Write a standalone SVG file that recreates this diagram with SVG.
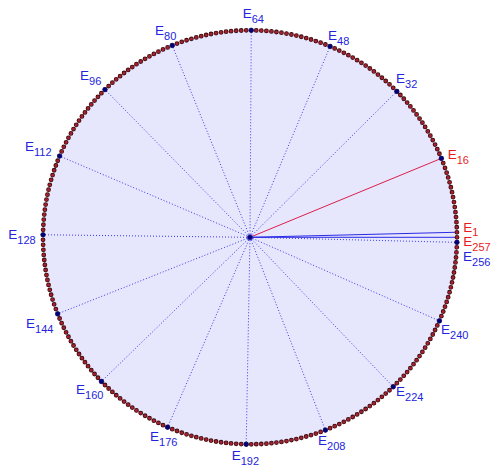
<svg xmlns="http://www.w3.org/2000/svg" width="500" height="476" viewBox="0 0 500 476">
<style>
.lb{font-family:"Liberation Sans",Arial,sans-serif;font-size:13.5px;fill:#2323e0}
.rd{fill:#e81c1c}
.sub{font-size:11px}
.dot{fill:#00007a;stroke:#1a1a66;stroke-width:0.6}
.dl{stroke:#3a3af0;stroke-width:1;stroke-dasharray:1 2;fill:none}
.sl{stroke:#2a2ae6;stroke-width:1;fill:none}
.red{stroke:#dc1f4a;stroke-width:1;fill:none}
</style>
<rect width="500" height="476" fill="#ffffff"/>
<circle id="disk" cx="250" cy="237.3" r="207" fill="#e6e6fc"/>
<g id="connectors">
<line class="red" x1="250" y1="237.3" x2="441.36" y2="158.37"/>
<line class="dl" x1="250" y1="237.3" x2="396.82" y2="91.38"/>
<line class="dl" x1="250" y1="237.3" x2="330.09" y2="46.42"/>
<line class="dl" x1="250" y1="237.3" x2="251.26" y2="30.3"/>
<line class="dl" x1="250" y1="237.3" x2="172.25" y2="45.45"/>
<line class="dl" x1="250" y1="237.3" x2="104.98" y2="89.59"/>
<line class="dl" x1="250" y1="237.3" x2="59.61" y2="156.04"/>
<line class="dl" x1="250" y1="237.3" x2="43.01" y2="234.77"/>
<line class="dl" x1="250" y1="237.3" x2="57.68" y2="313.88"/>
<line class="dl" x1="250" y1="237.3" x2="101.41" y2="381.42"/>
<line class="dl" x1="250" y1="237.3" x2="167.58" y2="427.19"/>
<line class="dl" x1="250" y1="237.3" x2="246.2" y2="444.27"/>
<line class="dl" x1="250" y1="237.3" x2="325.4" y2="430.08"/>
<line class="dl" x1="250" y1="237.3" x2="393.21" y2="386.77"/>
<line class="dl" x1="250" y1="237.3" x2="439.38" y2="320.88"/>
<line class="dl" x1="250" y1="237.3" x2="456.94" y2="242.36"/>
<line class="sl" x1="250" y1="237.3" x2="456.94" y2="232.24"/>
<line class="sl" x1="250" y1="237.3" x2="457" y2="237.3"/>
</g>
<g id="ring">
<circle cx="250" cy="237.3" r="207" pathLength="257" fill="none" stroke="#3a0c10" stroke-width="4.8" stroke-linecap="round" stroke-dasharray="0 1"/>
<circle cx="250" cy="237.3" r="207" pathLength="257" fill="none" stroke="#a3202e" stroke-width="3.2" stroke-linecap="round" stroke-dasharray="0 1"/>
</g>
<g id="center"><circle cx="250" cy="237.3" r="2.6" fill="#000080" stroke="#3a3a9a" stroke-width="0.8"/></g>
<g id="E1"><text class="lb rd" x="463.3" y="231.8">E<tspan class="sub" dy="4.5">1</tspan></text></g>
<g id="E257"><text class="lb rd" x="463.3" y="246">E<tspan class="sub" dy="5">257</tspan></text></g>
<g id="E16"><circle class="dot" cx="441.36" cy="158.37" r="2.3"/><text class="lb rd" x="447.7" y="159.3">E<tspan class="sub" dy="5">16</tspan></text></g>
<g id="E32"><circle class="dot" cx="396.82" cy="91.38" r="2.3"/><text class="lb" x="396" y="83">E<tspan class="sub" dy="5">32</tspan></text></g>
<g id="E48"><circle class="dot" cx="330.09" cy="46.42" r="2.3"/><text class="lb" x="328" y="40">E<tspan class="sub" dy="5">48</tspan></text></g>
<g id="E64"><circle class="dot" cx="251.26" cy="30.3" r="2.3"/><text class="lb" x="242.7" y="18.3">E<tspan class="sub" dy="5">64</tspan></text></g>
<g id="E80"><circle class="dot" cx="172.25" cy="45.45" r="2.3"/><text class="lb" x="155" y="35">E<tspan class="sub" dy="5">80</tspan></text></g>
<g id="E96"><circle class="dot" cx="104.98" cy="89.59" r="2.3"/><text class="lb" x="80" y="80">E<tspan class="sub" dy="5">96</tspan></text></g>
<g id="E112"><circle class="dot" cx="59.61" cy="156.04" r="2.3"/><text class="lb" x="25" y="150.7">E<tspan class="sub" dy="5">112</tspan></text></g>
<g id="E128"><circle class="dot" cx="43.01" cy="234.77" r="2.3"/><text class="lb" x="8.3" y="239">E<tspan class="sub" dy="5">128</tspan></text></g>
<g id="E144"><circle class="dot" cx="57.68" cy="313.88" r="2.3"/><text class="lb" x="26" y="328">E<tspan class="sub" dy="5">144</tspan></text></g>
<g id="E160"><circle class="dot" cx="101.41" cy="381.42" r="2.3"/><text class="lb" x="76" y="394">E<tspan class="sub" dy="5">160</tspan></text></g>
<g id="E176"><circle class="dot" cx="167.58" cy="427.19" r="2.3"/><text class="lb" x="150" y="441">E<tspan class="sub" dy="5">176</tspan></text></g>
<g id="E192"><circle class="dot" cx="246.2" cy="444.27" r="2.3"/><text class="lb" x="231.7" y="460">E<tspan class="sub" dy="5">192</tspan></text></g>
<g id="E208"><circle class="dot" cx="325.4" cy="430.08" r="2.3"/><text class="lb" x="318" y="445">E<tspan class="sub" dy="5">208</tspan></text></g>
<g id="E224"><circle class="dot" cx="393.21" cy="386.77" r="2.3"/><text class="lb" x="396" y="396">E<tspan class="sub" dy="5">224</tspan></text></g>
<g id="E240"><circle class="dot" cx="439.38" cy="320.88" r="2.3"/><text class="lb" x="441" y="334">E<tspan class="sub" dy="5">240</tspan></text></g>
<g id="E256"><circle class="dot" cx="456.94" cy="242.36" r="2.3"/><text class="lb" x="463" y="260.7">E<tspan class="sub" dy="5">256</tspan></text></g>
</svg>
